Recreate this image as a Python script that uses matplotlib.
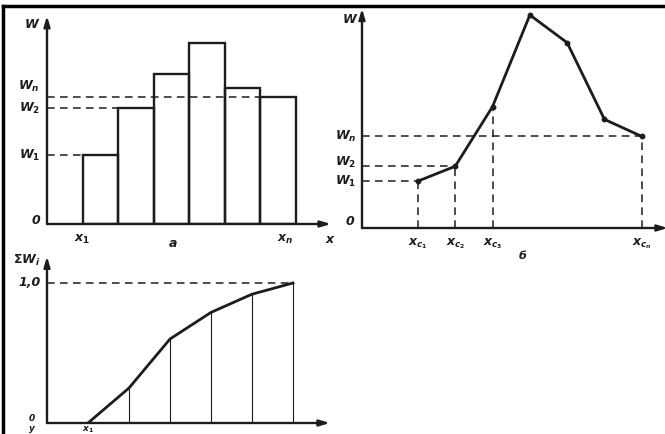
import matplotlib
matplotlib.use('Agg')
import matplotlib.pyplot as plt
from matplotlib.lines import Line2D

plt.rcParams['mathtext.fontset'] = 'custom'
plt.rcParams['mathtext.it'] = 'DejaVu Sans:italic:bold'
plt.rcParams['mathtext.rm'] = 'DejaVu Sans:bold'
plt.rcParams['font.family'] = ['DejaVu Sans']

INK = '#1c1c1c'
W, H = 665, 434

# a) histogram: interval edges and heights
hist_edges = [1, 2, 3, 4, 5, 6, 7]
hist_w = [3.8, 6.4, 8.3, 10.0, 7.5, 7.0]

# б) polygon: interval midpoints and frequencies
poly_x = [1.5, 2.5, 3.5, 4.5, 5.5, 6.5, 7.5]
poly_w = [2.2, 2.9, 5.7, 10.0, 8.7, 5.1, 4.3]
poly_xlabels = [r'$x_{c_1}$', r'$x_{c_2}$', r'$x_{c_3}$', r'$x_{c_n}$']

# cumulative curve
cum_x = [1, 2, 3, 4, 5, 6]
cum_w = [0.0, 0.25, 0.6, 0.79, 0.92, 1.0]


def px_axes(fig, left, right, top, bottom):
    # place axes using pixel box of the reference picture
    return fig.add_axes([left / W, 1 - bottom / H, (right - left) / W, (bottom - top) / H])


def draw_axes(ax, lw=1.7):
    for s in ax.spines.values():
        s.set_visible(False)
    ax.set_xticks([])
    ax.set_yticks([])
    ax.patch.set_alpha(0)
    arrow = dict(arrowstyle='-|>,head_length=0.6,head_width=0.18', lw=lw, color=INK,
                 shrinkA=0, shrinkB=0)
    ax.annotate('', xy=(0, 1), xytext=(0, 0), xycoords='axes fraction', arrowprops=arrow)
    ax.annotate('', xy=(1, 0), xytext=(0, 0), xycoords='axes fraction', arrowprops=arrow)


def lab(ax, x, y, s, **kw):
    kw.setdefault('fontsize', 9)
    kw.setdefault('color', INK)
    kw.setdefault('fontstyle', 'italic')
    kw.setdefault('fontweight', 'bold')
    ax.text(x, y, s, clip_on=False, **kw)


fig = plt.figure(figsize=(W / 100, H / 100), dpi=100)
fig.patch.set_facecolor('white')

dash = (0, (5, 3.5))

# ---- panel a ----
ax1 = px_axes(fig, 47, 47 + 8 * 35.5, 224 - 11.5 * 18.1, 224)
ax1.set_xlim(0, 8)
ax1.set_ylim(0, 11.5)
draw_axes(ax1)
ax1.bar(hist_edges[:-1], hist_w, width=1, align='edge', fill=False,
        edgecolor=INK, lw=1.7)
ax1.plot([0, hist_edges[0]], [hist_w[0]] * 2, ls=dash, color=INK, lw=1.1)
ax1.plot([0, hist_edges[1]], [hist_w[1]] * 2, ls=dash, color=INK, lw=1.1)
ax1.plot([0, hist_edges[-2]], [hist_w[-1]] * 2, ls=dash, color=INK, lw=1.1)
lab(ax1, -0.25, 11.0, 'W', ha='right', va='center')
lab(ax1, -0.2, hist_w[0], r'$W_1$', ha='right', va='center')
lab(ax1, -0.2, hist_w[1], r'$W_2$', ha='right', va='center')
lab(ax1, -0.2, hist_w[-1] + 0.6, r'$W_n$', ha='right', va='center')
lab(ax1, -0.2, 0.2, '0', ha='right', va='center')
lab(ax1, hist_edges[0], -0.5, r'$x_1$', ha='center', va='top')
lab(ax1, hist_edges[-1] - 0.3, -0.5, r'$x_n$', ha='center', va='top')
lab(ax1, 3.55, -0.7, 'а', ha='center', va='top')
lab(ax1, 7.95, -0.5, 'x', ha='center', va='top')

# ---- panel б ----
ax2 = px_axes(fig, 362, 362 + 8.2 * 37.3, 228 - 10.3 * 21.3, 228)
ax2.set_xlim(0, 8.2)
ax2.set_ylim(0, 10.3)
draw_axes(ax2)
ax2.plot(poly_x, poly_w, color=INK, lw=2.0, marker='o', ms=3.2)
for i in [0, 1, 6]:
    ax2.plot([0, poly_x[i]], [poly_w[i]] * 2, ls=dash, color=INK, lw=1.1)
for i in [0, 1, 2, 6]:
    ax2.plot([poly_x[i]] * 2, [0, poly_w[i]], ls=dash, color=INK, lw=1.1)
lab(ax2, -0.15, 9.8, 'W', ha='right', va='center')
lab(ax2, -0.15, poly_w[0], r'$W_1$', ha='right', va='center')
lab(ax2, -0.15, poly_w[1] + 0.2, r'$W_2$', ha='right', va='center')
lab(ax2, -0.15, poly_w[-1], r'$W_n$', ha='right', va='center')
lab(ax2, -0.2, 0.3, '0', ha='right', va='center')
for i, s in zip([0, 1, 2, 6], poly_xlabels):
    lab(ax2, poly_x[i], -0.4, s, ha='center', va='top')
lab(ax2, 4.3, -1.1, 'б', ha='center', va='top', fontsize=8)

# ---- cumulative curve ----
ax3 = px_axes(fig, 47, 47 + 6.9 * 41, 423 - 1.19 * 140, 423)
ax3.set_xlim(0, 6.9)
ax3.set_ylim(0, 1.19)
draw_axes(ax3)
ax3.plot(cum_x, cum_w, color=INK, lw=2.0)
for xv, yv in zip(cum_x[1:], cum_w[1:]):
    ax3.plot([xv, xv], [0, yv], color=INK, lw=0.8)
ax3.plot([0, cum_x[-1]], [1.0, 1.0], ls=dash, color=INK, lw=1.1)
lab(ax3, -0.15, 1.16, r'$\Sigma W_i$', ha='right', va='center')
lab(ax3, -0.15, 1.0, '1,0', ha='right', va='center')
lab(ax3, -0.3, 0.03, '0', ha='right', va='center', fontsize=6.5)
lab(ax3, -0.3, -0.01, 'y', ha='right', va='top', fontsize=6.5)
lab(ax3, cum_x[0], -0.01, r'$x_1$', ha='center', va='top', fontsize=6.5)

# page frame of the scan
fig.add_artist(Line2D([3 / W, 1], [1 - 6 / H] * 2, color='black', lw=2.5))
fig.add_artist(Line2D([3 / W] * 2, [0, 1 - 6 / H], color='black', lw=2.5))

fig.savefig('out.png', dpi=100, facecolor='white')
